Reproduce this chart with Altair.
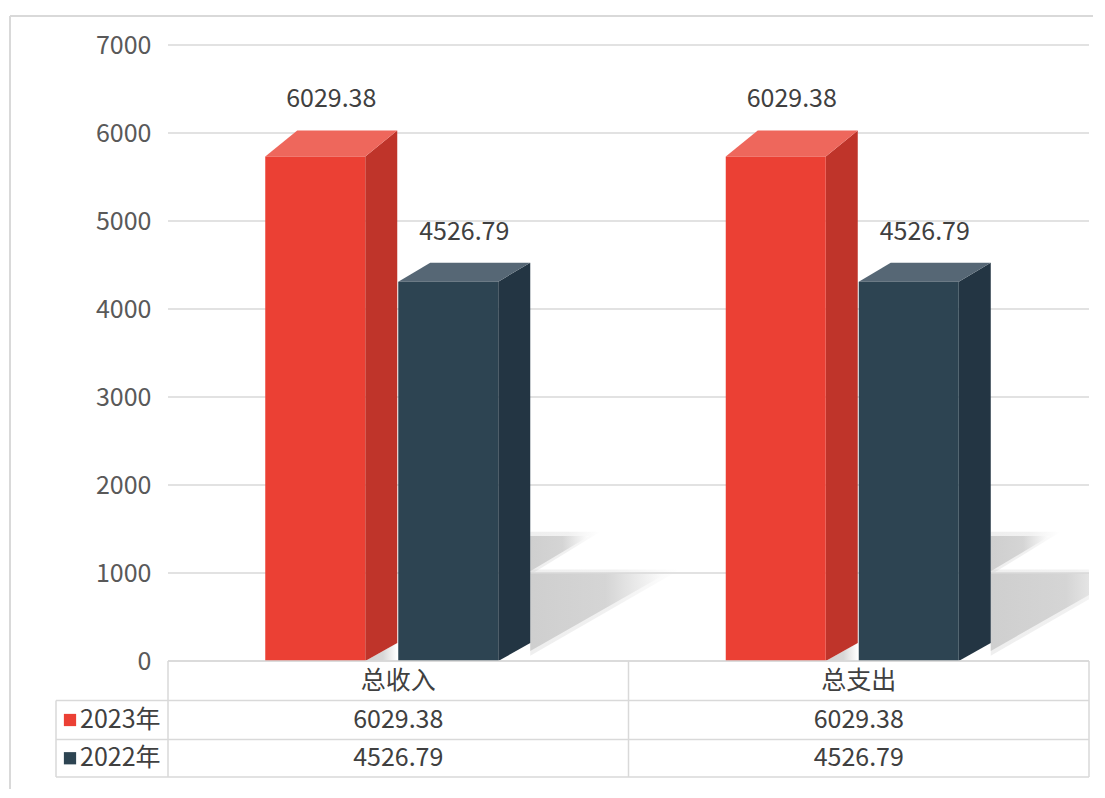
import altair as alt
import pandas as pd

# ---------------- data ----------------
categories = ["总收入", "总支出"]
series_names = ["2023年", "2022年"]
values_2023 = [6029.38, 6029.38]
values_2022 = [4526.79, 4526.79]
y_ticks = [0, 1000, 2000, 3000, 4000, 5000, 6000, 7000]

# ---------------- styles ----------------
FONT = "Noto Sans CJK SC"
FS = 25
FRONT = {"2023年": "#EB4034", "2022年": "#2D4452"}
TOP = {"2023年": "#EE675C", "2022年": "#566775"}
SIDE = {"2023年": "#BF342A", "2022年": "#233543"}
GRID = "#d9d9d9"
TXT = "#404040"

PLOT_W = 921
PLOT_H = 732
BAR_PX = 616          # pixel height used by 0..7000
YMAX = 7000
XU = PLOT_W / len(categories)   # px per x unit
YU = BAR_PX / YMAX              # px per y unit
YMIN = -(PLOT_H - BAR_PX) / YU


def py(p):
    """pixel offset from plot top -> y value"""
    return YMAX - p / YU


BAR_W = 100 / XU
DX = 32 / XU
GROUP_OFF = [-133 / XU, 0.0]
DY_TOP = {"2023年": 26, "2022年": 19}
DY_BOT = 18

YS = alt.Scale(domain=[YMIN, YMAX], nice=False, zero=False)
XS = alt.Scale(domain=[0, len(categories)], nice=False, zero=False)
YAX = alt.Axis(values=y_ticks, grid=False, domain=False, ticks=False,
               labelPadding=17, labelFontSize=FS, labelColor="#595959",
               labelFont=FONT, format="d", labelOverlap=False, title=None)


def X(f):
    return alt.X(f, type="quantitative", scale=XS, axis=None, title=None, stack=None)


def Y(f):
    return alt.Y(f, type="quantitative", scale=YS, axis=YAX, title=None, stack=None)


# ---------------- derived tables ----------------
rows = []
for ci, cat in enumerate(categories):
    for si, (sname, vals) in enumerate(zip(series_names, [values_2023, values_2022])):
        v = vals[ci]
        c = ci + 0.5
        xl = c + GROUP_OFF[si]
        xr = xl + BAR_W
        rows.append(dict(key=f"{ci}-{si}", cat=cat, series=sname, si=si, value=v,
                         xl=xl, xr=xr, xb=xr + DX, yf=v - DY_TOP[sname] / YU,
                         yb0=DY_BOT / YU, zero=0.0, lx=xl + (BAR_W + DX) / 2,
                         label=f"{v:.2f}", front=FRONT[sname], top=TOP[sname],
                         side=SIDE[sname]))
bars = pd.DataFrame(rows)

side_rows, top_rows = [], []
for r in rows:
    side_rows.append(dict(key=r["key"], x=r["xr"], lo=0.0, hi=r["yf"], col=r["side"]))
    side_rows.append(dict(key=r["key"], x=r["xb"], lo=r["yb0"], hi=r["value"], col=r["side"]))
    top_rows.append(dict(key=r["key"], y=r["yf"], a=r["xl"], b=r["xr"], col=r["top"]))
    top_rows.append(dict(key=r["key"], y=r["value"], a=r["xl"] + DX, b=r["xr"] + DX, col=r["top"]))
side_df = pd.DataFrame(side_rows)
top_df = pd.DataFrame(top_rows)

# soft shadows cast on the floor
sh_rows, halo_rows = [], []
for r in rows:
    xb = r["xb"]
    if r["si"] == 1:
        sh_rows += [dict(key=r["key"] + "a", x=xb, lo=114, hi=1000),
                    dict(key=r["key"] + "a", x=xb + 137 / XU, lo=1000, hi=1000),
                    dict(key=r["key"] + "b", x=xb, lo=1020, hi=1420),
                    dict(key=r["key"] + "b", x=xb + 59 / XU, lo=1420, hi=1420)]
        halo_rows += [dict(key=r["key"] + "a", x=xb, lo=60, hi=1040),
                      dict(key=r["key"] + "a", x=xb + 150 / XU, lo=1040, hi=1040),
                      dict(key=r["key"] + "b", x=xb, lo=980, hi=1470),
                      dict(key=r["key"] + "b", x=xb + 70 / XU, lo=1470, hi=1470)]
    else:
        # light floor shadow visible below the front bar's side face
        sh_rows += [dict(key=r["key"] + "c", x=r["xr"], lo=0, hi=0),
                    dict(key=r["key"] + "c", x=xb, lo=0, hi=r["yb0"])]
sh_df = pd.DataFrame(sh_rows)
halo_df = pd.DataFrame(halo_rows)

grid_df = pd.DataFrame({"v": y_ticks})

# data table
LEG_L = -112 / XU
ROW_EDGES = [616, 655.5, 694.5, 732]
lines = [dict(x1=0, x2=len(categories), y1=py(ROW_EDGES[0]), y2=py(ROW_EDGES[0]))]
for e in ROW_EDGES[1:]:
    lines.append(dict(x1=LEG_L, x2=len(categories), y1=py(e), y2=py(e)))
lines.append(dict(x1=LEG_L, x2=LEG_L, y1=py(ROW_EDGES[1]), y2=py(ROW_EDGES[3])))
for k in range(len(categories) + 1):
    lines.append(dict(x1=k, x2=k, y1=py(ROW_EDGES[0]), y2=py(ROW_EDGES[3])))
lines_df = pd.DataFrame(lines)

header_df = pd.DataFrame({"x": [i + 0.5 for i in range(len(categories))],
                          "y": [py((ROW_EDGES[0] + ROW_EDGES[1]) / 2)] * len(categories),
                          "t": categories})
cell_rows, leg_rows = [], []
for si, (sname, vals) in enumerate(zip(series_names, [values_2023, values_2022])):
    yc = py((ROW_EDGES[si + 1] + ROW_EDGES[si + 2]) / 2)
    leg_rows.append(dict(y=yc, t=sname, col=FRONT[sname]))
    for ci, v in enumerate(vals):
        cell_rows.append(dict(x=ci + 0.5, y=yc, t=f"{v:.2f}"))
cell_df = pd.DataFrame(cell_rows)
leg_df = pd.DataFrame(leg_rows)

# ---------------- layers ----------------
frame_top = alt.Chart(grid_df).mark_rule(color=GRID, strokeWidth=1.5).encode(
    x=alt.value(-158), x2=alt.value(925), y=alt.value(-29))
frame_left = alt.Chart(grid_df).mark_rule(color=GRID, strokeWidth=1.5).encode(
    x=alt.value(-158), y=alt.value(-29), y2=alt.value(744))

SH_GRAD = alt.Gradient(gradient="linear",
                       stops=[alt.GradientStop(color="#c9c9c9", offset=0),
                              alt.GradientStop(color="#d0d0d0", offset=0.55),
                              alt.GradientStop(color="#ffffff", offset=1)],
                       x1=0, x2=1, y1=0, y2=0)

halo = alt.Chart(halo_df).mark_area(orient="vertical", clip=True, opacity=0.3,
                                    color=SH_GRAD).encode(
    x=X("x"), y=Y("lo"), y2=alt.Y2("hi"), detail="key:N")

shadow = alt.Chart(sh_df).mark_area(orient="vertical", clip=True, opacity=0.85,
                                    color=SH_GRAD).encode(
    x=X("x"), y=Y("lo"), y2=alt.Y2("hi"), detail="key:N")

grid = alt.Chart(grid_df).mark_rule(color=GRID, strokeWidth=1.5).encode(
    y=Y("v"), x=alt.value(0), x2=alt.value(PLOT_W))

sides = alt.Chart(side_df).mark_area(orient="vertical").encode(
    x=X("x"), y=Y("lo"), y2=alt.Y2("hi"), detail="key:N",
    color=alt.Color("col:N", scale=None))

tops = alt.Chart(top_df).mark_area(orient="horizontal").encode(
    y=Y("y"), x=X("a"), x2=alt.X2("b"), detail="key:N",
    color=alt.Color("col:N", scale=None))

fronts = alt.Chart(bars).mark_rect().encode(
    x=X("xl"), x2=alt.X2("xr"), y=Y("zero"), y2=alt.Y2("yf"),
    color=alt.Color("front:N", scale=None))

labels = alt.Chart(bars).mark_text(font=FONT, fontSize=FS, color=TXT, dy=-31,
                                   baseline="middle").encode(
    x=X("lx"), y=Y("value"), text="label:N")

tlines = alt.Chart(lines_df).mark_rule(color=GRID, strokeWidth=1.5).encode(
    x=X("x1"), x2=alt.X2("x2"), y=Y("y1"), y2=alt.Y2("y2"))

theader = alt.Chart(header_df).mark_text(font=FONT, fontSize=FS, color=TXT,
                                         baseline="middle").encode(
    x=X("x"), y=Y("y"), text="t:N")
tcells = alt.Chart(cell_df).mark_text(font=FONT, fontSize=FS, color=TXT,
                                      baseline="middle").encode(
    x=X("x"), y=Y("y"), text="t:N")
legsq = alt.Chart(leg_df).mark_square(size=150, opacity=1).encode(
    x=alt.value(-98), y=Y("y"), color=alt.Color("col:N", scale=None))
legtx = alt.Chart(leg_df).mark_text(font=FONT, fontSize=FS, color=TXT, align="left",
                                    baseline="middle").encode(
    x=alt.value(-88), y=Y("y"), text="t:N")

chart = alt.layer(
    frame_top, frame_left, halo, shadow, grid, sides, tops, fronts, labels,
    tlines, theader, tcells, legsq, legtx
).properties(
    width=PLOT_W, height=PLOT_H,
    padding={"left": 1, "top": 7, "right": 0, "bottom": 0},
    background="white"
).configure_view(stroke=None)

chart.save("out.html", embed_options={"renderer": "svg", "actions": False})
